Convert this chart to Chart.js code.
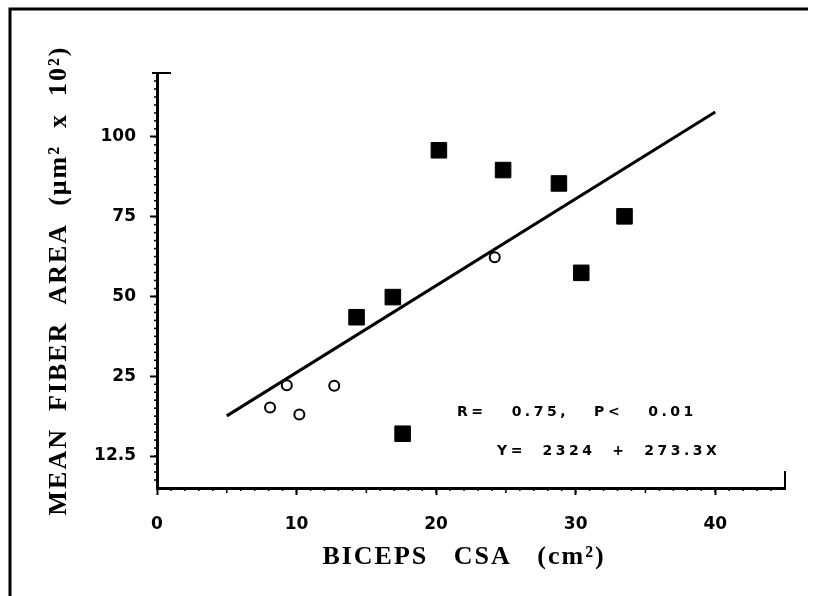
<!DOCTYPE html>
<html>
<head>
<meta charset="utf-8">
<title>Mean fiber area vs biceps CSA</title>
<script src="https://cdn.jsdelivr.net/npm/chart.js@4.4.1/dist/chart.umd.min.js"></script>
<style>
    html, body { margin: 0; padding: 0; background: #fff; }
    #wrap { width: 815px; height: 596px; position: relative; }
</style>
</head>
<body>
<div id="wrap"><canvas id="fiberChart"></canvas></div>
<script>
// Filled squares
const squareX = [20.2, 24.8, 28.8, 33.5, 30.4, 14.3, 16.9, 17.6];
const squareY = [95.8, 89.6, 85.4, 75.1, 57.4, 43.5, 49.8, 16.0];

// Open circles
const circleX = [8.1, 9.3, 10.2, 12.7, 24.2];
const circleY = [20.1, 23.6, 19.0, 23.5, 62.3];

// Regression line (end points)
const fitX = [5, 40];
const fitY = [18.8, 107.8];

// Axes
const xTicks = [0, 10, 20, 30, 40];
const yTicks = [12.5, 25, 50, 75, 100];
const yTickLabels = ['12.5', '25', '50', '75', '100'];

const xTitle = 'BICEPS   CSA   (cm²)';
const yTitle = 'MEAN  FIBER  AREA  (μm²  x  10²)';
const statsText = ['R=   0.75,   P<   0.01', 'Y=  2324  +  273.3X'];

const toPoints = (xs, ys) => xs.map((x, i) => ({ x: x, y: ys[i] }));

// The y axis of the original is broken below 25: 12.5 sits one full step under 25
const BREAK = 25;
class BrokenScale extends Chart.LinearScale {
    mapValue(v) { return v >= BREAK ? v : BREAK - (BREAK - v) * 2; }
    unmapValue(m) { return m >= BREAK ? m : BREAK - (BREAK - m) / 2; }
    getPixelForValue(value) {
        if (value === null || value === undefined || isNaN(value)) return NaN;
        const a = this.mapValue(this.min);
        const b = this.mapValue(this.max);
        return this.getPixelForDecimal((this.mapValue(value) - a) / (b - a));
    }
    getValueForPixel(pixel) {
        const a = this.mapValue(this.min);
        const b = this.mapValue(this.max);
        return this.unmapValue(a + this.getDecimalForPixel(pixel) * (b - a));
    }
}
BrokenScale.id = 'broken';
BrokenScale.defaults = Chart.LinearScale.defaults;
Chart.register(BrokenScale);

// Frame, minor tick marks, axis end stubs, spaced-out titles and the stats text
const extrasPlugin = {
    id: 'extras',
    afterDraw(chart) {
        const ctx = chart.ctx;
        const xs = chart.scales.x;
        const ys = chart.scales.y;
        const area = chart.chartArea;
        ctx.save();
        ctx.strokeStyle = '#000';
        ctx.fillStyle = '#000';

        // page frame (top and left edges)
        ctx.lineWidth = 3;
        ctx.beginPath();
        ctx.moveTo(10, 596);
        ctx.lineTo(10, 9);
        ctx.lineTo(808, 9);
        ctx.stroke();

        // small ticks on x axis
        ctx.lineWidth = 1.5;
        for (let v = 1; v < xs.max; v++) {
            const px = xs.getPixelForValue(v);
            const len = v % 5 === 0 ? 5 : 3;
            ctx.beginPath();
            ctx.moveTo(px, area.bottom);
            ctx.lineTo(px, area.bottom + len);
            ctx.stroke();
        }
        // small ticks on y axis
        for (let v = BREAK + 2.5; v < ys.max; v += 2.5) {
            const py = ys.getPixelForValue(v);
            ctx.beginPath();
            ctx.moveTo(area.left, py);
            ctx.lineTo(area.left - 3, py);
            ctx.stroke();
        }
        for (let v = BREAK - 1.25; v > ys.min; v -= 1.25) {
            const py = ys.getPixelForValue(v);
            ctx.beginPath();
            ctx.moveTo(area.left, py);
            ctx.lineTo(area.left - 3, py);
            ctx.stroke();
        }

        // stub at the right end of the x axis, serif at the top of the y axis
        ctx.lineWidth = 2;
        ctx.beginPath();
        ctx.moveTo(area.right, area.bottom);
        ctx.lineTo(area.right, area.bottom - 17);
        ctx.moveTo(area.left - 5, area.top);
        ctx.lineTo(area.left + 14, area.top);
        ctx.stroke();

        // axis titles, letter-spaced like the original typesetting
        ctx.font = 'bold 26px "Liberation Serif"';
        ctx.textAlign = 'center';
        ctx.textBaseline = 'middle';
        ctx.letterSpacing = '2px';
        ctx.fillText(xTitle, 464, 557);
        ctx.save();
        ctx.translate(59, (area.top + area.bottom) / 2);
        ctx.rotate(-Math.PI / 2);
        ctx.fillText(yTitle, 0, 0);
        ctx.restore();

        // regression stats
        ctx.font = 'bold 14px "DejaVu Sans"';
        ctx.letterSpacing = '3.5px';
        ctx.textAlign = 'left';
        ctx.fillText(statsText[0], area.left + 300, area.top + 339);
        ctx.fillText(statsText[1], area.left + 340, area.top + 378);
        ctx.restore();
    }
};

const tickFont = { family: 'DejaVu Sans', weight: 'bold', size: 17 };

new Chart(document.getElementById('fiberChart'), {
    type: 'scatter',
    data: {
        datasets: [
            {
                type: 'line',
                label: 'Fit',
                data: toPoints(fitX, fitY),
                borderColor: '#000',
                borderWidth: 3,
                pointRadius: 0,
                fill: false,
            },
            {
                label: 'Filled',
                data: toPoints(squareX, squareY),
                pointStyle: 'rect',
                pointRadius: 11,
                backgroundColor: '#000',
                borderColor: '#000',
                borderWidth: 1,
            },
            {
                label: 'Open',
                data: toPoints(circleX, circleY),
                pointStyle: 'circle',
                pointRadius: 5,
                backgroundColor: '#fff',
                borderColor: '#000',
                borderWidth: 2,
            },
        ],
    },
    options: {
        responsive: true,
        maintainAspectRatio: false,
        animation: false,
        layout: { padding: { top: 73, right: 30, left: 0, bottom: 0 } },
        plugins: {
            legend: { display: false },
            tooltip: { enabled: false },
        },
        scales: {
            x: {
                type: 'linear',
                min: 0,
                max: 45,
                afterBuildTicks: (scale) => { scale.ticks = xTicks.map(v => ({ value: v })); },
                afterFit: (scale) => { scale.height = 108; },
                ticks: { color: '#000', font: tickFont, padding: 19, maxRotation: 0 },
                grid: { drawOnChartArea: false, drawTicks: true, tickLength: 7, tickWidth: 2, tickColor: '#000' },
                border: { display: true, color: '#000', width: 3 },
            },
            y: {
                type: 'broken',
                min: 7.5,
                max: 120,
                afterBuildTicks: (scale) => { scale.ticks = yTicks.map(v => ({ value: v })); },
                afterFit: (scale) => { scale.width = 157; },
                ticks: {
                    color: '#000',
                    font: tickFont,
                    padding: 14,
                    callback: (value) => yTickLabels[yTicks.indexOf(value)],
                },
                grid: { drawOnChartArea: false, drawTicks: true, tickLength: 7, tickWidth: 2, tickColor: '#000' },
                border: { display: true, color: '#000', width: 3 },
            },
        },
    },
    plugins: [extrasPlugin],
});
</script>
</body>
</html>
